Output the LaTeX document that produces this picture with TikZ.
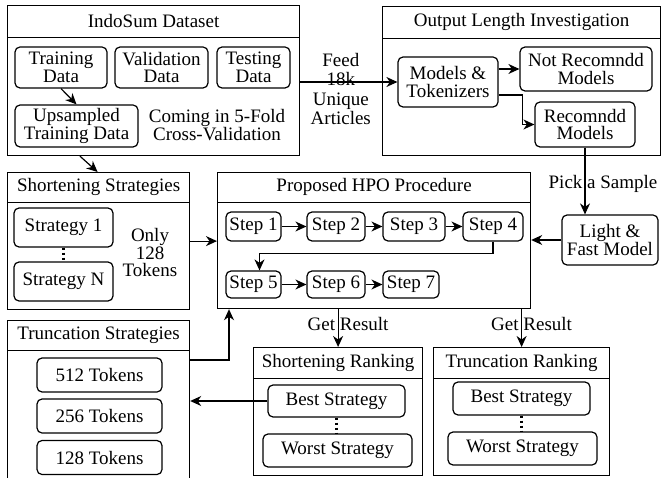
\documentclass[tikz,border=0pt]{standalone}
\usepackage{fontspec}
\setmainfont{Liberation Serif}
\usetikzlibrary{arrows.meta,positioning}

\begin{document}
\begin{tikzpicture}[
  x=1pt, y=-1pt,
  font=\fontsize{19}{17.5}\selectfont,
  line width=1.2pt,
  group/.style={draw, anchor=north west, inner sep=0pt},
  head/.style={anchor=north, minimum height=31, inner sep=0pt},
  item/.style={draw, rounded corners=5pt, align=center, inner sep=1pt},
  arr/.style={-{Stealth[length=11pt, width=10pt, inset=3.5pt]}},
  dots/.style={line width=2.5pt, dash pattern=on 2.5pt off 2.5pt}
]
\useasboundingbox (0,0) rectangle (663,478);
\clip (0,0) rectangle (663,478);

% Dataset
\node[group, minimum width=292, minimum height=150] (indosum) at (7,5) {};
\node[head] (indosum-t) at (indosum.north) {IndoSum Dataset};
\draw (indosum-t.south -| indosum.west) -- (indosum-t.south -| indosum.east);
\node[item, minimum width=92, minimum height=41] (train) at (61,67.5) {Training\\Data};
\node[item, minimum width=93, minimum height=41] (valid) at (161.5,67.5) {Validation\\Data};
\node[item, minimum width=73, minimum height=41] (test) at (253.5,67.5) {Testing\\Data};
\node[item, minimum width=123, minimum height=42] (upsample) at (76.5,126) {Upsampled\\Training Data};
\node[align=center] (kfold) at (217,125) {Coming in 5-Fold\\Cross-Validation};
\draw[arr] (train.south) -- (upsample.north);

% Output length investigation
\node[group, minimum width=278, minimum height=149] (outlen) at (382,6) {};
\node[head] (outlen-t) at (outlen.north) {Output Length Investigation};
\draw (outlen-t.south -| outlen.west) -- (outlen-t.south -| outlen.east);
\node[item, minimum width=100, minimum height=50] (models) at (448,82) {Models \&\\Tokenizers};
\node[item, minimum width=132, minimum height=44] (notrec) at (586,69) {Not Recomndd\\Models};
\node[item, minimum width=100, minimum height=45] (rec) at (585,124.5) {Recomndd\\Models};
\draw[arr] (models.east |- notrec.west) -- (notrec.west);
\draw[arr] ([yshift=-13]models.east) -- ++(24,0) |- (rec.west);

\draw[arr] (indosum.east |- models.west) -- node[align=center, xshift=-8, yshift=-7] {Feed\\[2pt]18k\\[2pt]Unique\\[2pt]Articles} (models.west);

% Light model
\node[item, minimum width=96, minimum height=50] (light) at (610,240) {Light \&\\Fast Model};
\draw[arr] (rec.south) -- node[xshift=18, yshift=-3] {Pick a Sample} (rec.south |- light.north);

% Shortening strategies
\node[group, minimum width=182, minimum height=137] (shortstrat) at (7,172) {};
\node[head, minimum height=29] (shortstrat-t) at (shortstrat.north) {Shortening Strategies};
\draw (shortstrat-t.south -| shortstrat.west) -- (shortstrat-t.south -| shortstrat.east);
\node[item, minimum width=99, minimum height=39] (strat1) at (63.5,227.5) {Strategy 1};
\node[item, minimum width=99, minimum height=39] (stratn) at (63.5,281.5) {Strategy N};
\draw[dots] (strat1.south) -- (stratn.north);
\node[align=center] (only) at (150,253) {Only\\128\\Tokens};

% HPO procedure
\node[group, minimum width=313, minimum height=136] (hpo) at (217,172) {};
\node[head, minimum height=29] (hpo-t) at (hpo.north) {Proposed HPO Procedure};
\draw (hpo-t.south -| hpo.west) -- (hpo-t.south -| hpo.east);
\node[item, minimum width=55, minimum height=29] (step1) at (253.5,226.5) {Step 1};
\node[item, minimum width=58, minimum height=29] (step2) at (336,226.5) {Step 2};
\node[item, minimum width=62, minimum height=29] (step3) at (414,226.5) {Step 3};
\node[item, minimum width=60, minimum height=29] (step4) at (493,226.5) {Step 4};
\node[item, minimum width=55, minimum height=27] (step5) at (253.5,284.5) {Step 5};
\node[item, minimum width=58, minimum height=27] (step6) at (336,284.5) {Step 6};
\node[item, minimum width=56, minimum height=27] (step7) at (411,284.5) {Step 7};
\draw[arr] (step1) -- (step2);
\draw[arr] (step2) -- (step3);
\draw[arr] (step3) -- (step4);
\draw[arr] (step4.south) -- ++(0,12) -| ([xshift=6]step5.north);
\draw[arr] (step5) -- (step6);
\draw[arr] (step6) -- (step7);

\draw[arr] (indosum.south west) ++(73,0) -- ([xshift=-1]shortstrat.north);
\draw[arr] (shortstrat.east) -- (shortstrat.east -| hpo.west);
\draw[arr] (light.west) -- (light.west -| hpo.east);

% Truncation strategies
\node[group, minimum width=182, minimum height=165] (truncstrat) at (7,320) {};
\node[head, minimum height=29] (truncstrat-t) at (truncstrat.north) {Truncation Strategies};
\draw (truncstrat-t.south -| truncstrat.west) -- (truncstrat-t.south -| truncstrat.east);
\node[item, minimum width=125, minimum height=34] (tok512) at (99.5,375) {512 Tokens};
\node[item, minimum width=125, minimum height=34] (tok256) at (99.5,416) {256 Tokens};
\node[item, minimum width=125, minimum height=34] (tok128) at (99.5,457.5) {128 Tokens};
\draw[arr] ([yshift=-40]truncstrat.north east) -| ([xshift=12]hpo.south west);

% Rankings
\node[group, minimum width=169, minimum height=128] (shortrank) at (253,347) {};
\node[head, minimum height=30] (shortrank-t) at (shortrank.north) {Shortening Ranking};
\draw (shortrank-t.south -| shortrank.west) -- (shortrank-t.south -| shortrank.east);
\node[item, minimum width=137, minimum height=32] (sbest) at (336.5,401) {Best Strategy};
\node[item, minimum width=149, minimum height=33] (sworst) at (337.5,450.5) {Worst Strategy};
\draw[dots] (sbest.south) -- (sbest.south |- sworst.north);

\node[group, minimum width=176, minimum height=128] (truncrank) at (433,347) {};
\node[head, minimum height=30] (truncrank-t) at (truncrank.north) {Truncation Ranking};
\draw (truncrank-t.south -| truncrank.west) -- (truncrank-t.south -| truncrank.east);
\node[item, minimum width=137, minimum height=33] (tbest) at (521.5,398.5) {Best Strategy};
\node[item, minimum width=149, minimum height=33] (tworst) at (522.5,448.5) {Worst Strategy};
\draw[dots] (tbest.south) -- (tbest.south |- tworst.north);

\draw[arr] (hpo.south -| shortrank.north) -- node[xshift=10, yshift=4] {Get Result} (shortrank.north);
\draw[arr] (hpo.south -| truncrank.north) -- node[xshift=10, yshift=4] {Get Result} (truncrank.north);
\draw[arr] (sbest.west) -- (sbest.west -| truncstrat.east);

\end{tikzpicture}
\end{document}
